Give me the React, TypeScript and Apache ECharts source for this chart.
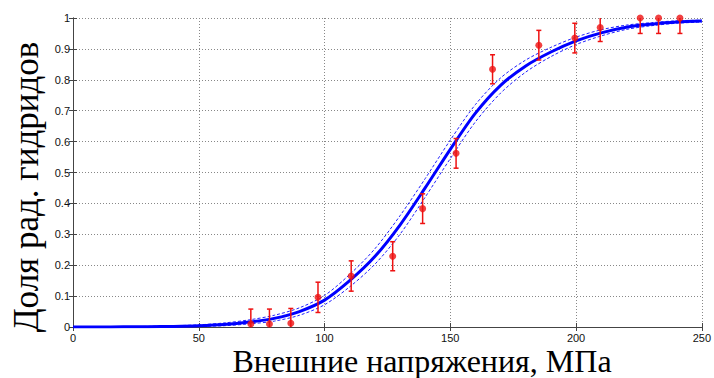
import React, { useEffect, useRef } from "react";
import * as echarts from "echarts";

// Fitted curve and its confidence band, sampled every 10 MPa
const fitX = [0, 10, 20, 30, 40, 50, 60, 70, 80, 90, 100, 110, 120, 130, 140, 150, 160, 170, 180, 190, 200, 210, 220, 230, 240, 250];
const fitY = [0, 0, 0.0005, 0.001, 0.002, 0.004, 0.008, 0.016, 0.028, 0.05, 0.087, 0.15, 0.228, 0.33, 0.45, 0.575, 0.692, 0.782, 0.845, 0.89, 0.926, 0.952, 0.97, 0.98, 0.987, 0.99];
const upperY = [0, 0, 0.001, 0.002, 0.004, 0.007, 0.013, 0.023, 0.038, 0.062, 0.102, 0.17, 0.253, 0.36, 0.48, 0.605, 0.72, 0.806, 0.864, 0.905, 0.938, 0.962, 0.977, 0.985, 0.991, 0.993];
const lowerY = [0, 0, 0, 0, 0.001, 0.002, 0.004, 0.01, 0.019, 0.038, 0.072, 0.13, 0.203, 0.3, 0.42, 0.545, 0.664, 0.757, 0.825, 0.875, 0.914, 0.942, 0.963, 0.975, 0.983, 0.987];

// Experimental points with error bars
const ptX = [70.7, 78.1, 86.6, 97.4, 110.6, 127.1, 139, 152.3, 166.8, 185.2, 199.5, 209.6, 225.5, 232.8, 241.3];
const ptY = [0.01, 0.01, 0.012, 0.096, 0.165, 0.229, 0.383, 0.562, 0.834, 0.912, 0.935, 0.969, 1.0, 1.0, 1.0];
const ptErr = [0.048, 0.048, 0.048, 0.049, 0.049, 0.047, 0.048, 0.048, 0.047, 0.048, 0.048, 0.045, 0.05, 0.05, 0.05];

const xTitle = "Внешние напряжения, МПа";
const yTitle = "Доля рад. гидридов";

export default function App() {
  const ref = useRef<HTMLDivElement>(null);
  useEffect(() => {
    if (!ref.current) return;
    const chart = echarts.init(ref.current, null, { renderer: "svg" });
    const axisColor = "#444";
    const serif = "Liberation Serif";
    const tickFont = { color: "#111", fontSize: 11, fontFamily: "Liberation Sans" };
    const pairs = (ys: number[]) => fitX.map((x, i) => [x, ys[i]]);
    const option: any = {
      animation: false,
      grid: { left: 73, right: 8, top: 18, bottom: 51, containLabel: false },
      xAxis: [
        {
          type: "value", min: 0, max: 250, interval: 50,
          axisLine: { show: true, lineStyle: { color: axisColor, width: 1 } },
          axisTick: { show: true, inside: true, length: 4, lineStyle: { color: axisColor } },
          axisLabel: { ...tickFont, margin: 5 },
          splitLine: { show: true, lineStyle: { color: "#888", type: [1, 2], width: 1 } },
        },
        {
          type: "value", min: 0, max: 250, interval: 50, position: "top",
          axisLine: { show: true, lineStyle: { color: axisColor, width: 1 } },
          axisTick: { show: true, inside: true, length: 4, lineStyle: { color: axisColor } },
          axisLabel: { show: false }, splitLine: { show: false },
        },
      ],
      yAxis: [
        {
          type: "value", min: 0, max: 1, interval: 0.1,
          axisLine: { show: true, lineStyle: { color: axisColor, width: 1 } },
          axisTick: { show: true, inside: true, length: 4, lineStyle: { color: axisColor } },
          axisLabel: { ...tickFont, margin: 3 },
          splitLine: { show: true, lineStyle: { color: "#888", type: [1, 2], width: 1 } },
        },
        {
          type: "value", min: 0, max: 1, interval: 0.1, position: "right",
          axisLine: { show: true, lineStyle: { color: axisColor, width: 1 } },
          axisTick: { show: true, inside: true, length: 4, lineStyle: { color: axisColor } },
          axisLabel: { show: false }, splitLine: { show: false },
        },
      ],
      series: [
        {
          type: "line", data: pairs(upperY), symbol: "none", smooth: 0.3,
          lineStyle: { color: "#2020ff", width: 1, type: [3, 2] }, z: 2,
        },
        {
          type: "line", data: pairs(lowerY), symbol: "none", smooth: 0.3,
          lineStyle: { color: "#2020ff", width: 1, type: [3, 2] }, z: 2,
        },
        {
          type: "line", data: pairs(fitY), symbol: "none", smooth: 0.3,
          lineStyle: { color: "#0000ff", width: 3 }, z: 3,
        },
        {
          type: "custom", clip: true, z: 4,
          data: ptX.map((x, i) => [x, ptY[i] - ptErr[i], ptY[i] + ptErr[i]]),
          renderItem: (params: any, api: any) => {
            const x = api.value(0);
            const lo = api.coord([x, api.value(1)]);
            const hi = api.coord([x, api.value(2)]);
            const cw = 2.5;
            const style = { stroke: "#ee1111", lineWidth: 1.5 };
            return {
              type: "group",
              children: [
                { type: "line", shape: { x1: lo[0], y1: lo[1], x2: hi[0], y2: hi[1] }, style },
                { type: "line", shape: { x1: hi[0] - cw, y1: hi[1], x2: hi[0] + cw, y2: hi[1] }, style },
                { type: "line", shape: { x1: lo[0] - cw, y1: lo[1], x2: lo[0] + cw, y2: lo[1] }, style },
              ],
            };
          },
        },
        {
          type: "scatter", data: ptX.map((x, i) => [x, ptY[i]]), symbol: "circle", symbolSize: 7,
          itemStyle: { color: "#ee1111" }, z: 5, clip: false,
        },
      ],
      graphic: [
        {
          type: "text", x: 422, y: 361,
          style: {
            text: xTitle, fill: "#000", fontSize: 32, fontFamily: serif,
            textAlign: "center", textVerticalAlign: "middle",
          },
        },
        {
          type: "text", x: 26, y: 187, rotation: Math.PI / 2,
          style: {
            text: yTitle, fill: "#000", fontSize: 35, fontFamily: serif,
            textAlign: "center", textVerticalAlign: "middle",
          },
        },
      ],
    };
    chart.setOption(option);
    return () => chart.dispose();
  }, []);
  return <div ref={ref} style={{ position: "fixed", left: 0, top: 0, width: 714, height: 378, background: "#fff" }} />;
}
